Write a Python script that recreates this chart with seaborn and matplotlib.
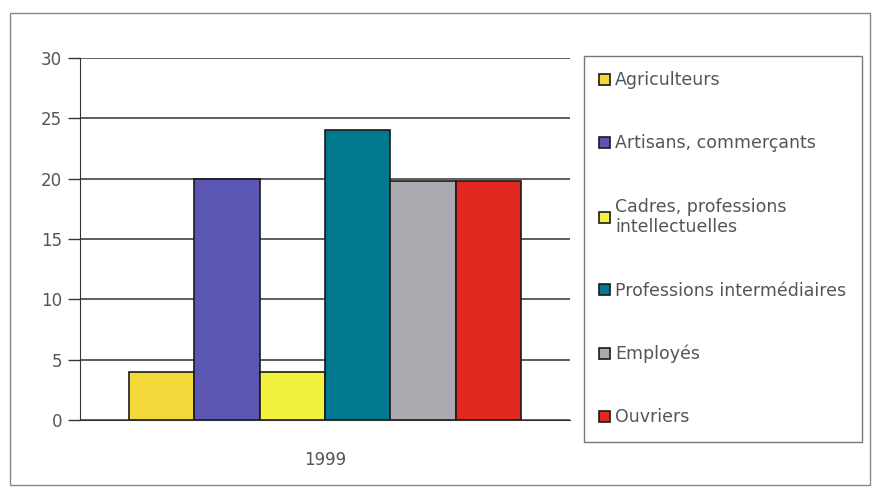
import pandas as pd
import matplotlib.pyplot as plt
import seaborn as sns
from matplotlib.patches import Rectangle

# --------------------------
# Data
# --------------------------
years = ["1999"] * 6
categories = ["Agriculteurs", "Artisans, commerçants", "Cadres, professions\nintellectuelles",
              "Professions intermédiaires", "Employés", "Ouvriers"]
values = [4, 20, 4, 24, 19.8, 19.8]
colors = ["#F5D93A", "#5B56B4", "#F2F23E", "#00798F", "#AAAAB0", "#E2291F"]

df = pd.DataFrame({"annee": years, "categorie": categories, "valeur": values})

# --------------------------
# Figure
# --------------------------
sns.set_style("white")
plt.rcParams['font.family'] = ['DejaVu Sans']

fig = plt.figure(figsize=(8.77, 4.98), dpi=100)
ax = fig.add_axes([80 / 877, 1 - 420 / 498, 490 / 877, 362 / 498])

sns.barplot(data=df, x="annee", y="valeur", hue="categorie", palette=colors,
            width=0.8, edgecolor="#1a1a1a", linewidth=1.2, saturation=1, ax=ax)

ax.set_ylim(0, 30)
ax.set_yticks(range(0, 31, 5))
ax.set_xlim(-0.5, 0.5)
ax.grid(axis="y", color="#333333", linewidth=1.1)
ax.set_axisbelow(True)
ax.set_xlabel("")
ax.set_ylabel("")
ax.tick_params(axis="y", direction="out", length=9, width=1, color="#333333",
               labelsize=12, labelcolor="#555555", pad=4, left=True)
ax.tick_params(axis="x", length=0, labelsize=12, labelcolor="#555555", pad=22)
sns.despine(ax=ax, top=True, right=True)
ax.spines["left"].set_color("#333333")
ax.spines["bottom"].set_color("#333333")

# Legend in its own box on the right
handles, labels = ax.get_legend_handles_labels()
ax.get_legend().remove()
leg = fig.legend(handles, labels, loc="upper left",
                 bbox_to_anchor=(575 / 877, 1 - 47 / 498),
                 frameon=True, fancybox=False, edgecolor="#555555",
                 fontsize=12.5, handlelength=0.6, handleheight=0.6, handletextpad=0.3,
                 labelspacing=2.6, borderpad=0.9, labelcolor="#555555")
leg.get_frame().set_linewidth(1)

# Outer chart border
fig.patches.append(Rectangle((10 / 877, 13 / 498), 860 / 877, 472 / 498,
                             transform=fig.transFigure, fill=False,
                             edgecolor="#888888", linewidth=1))

plt.savefig("out.png", dpi=100)
